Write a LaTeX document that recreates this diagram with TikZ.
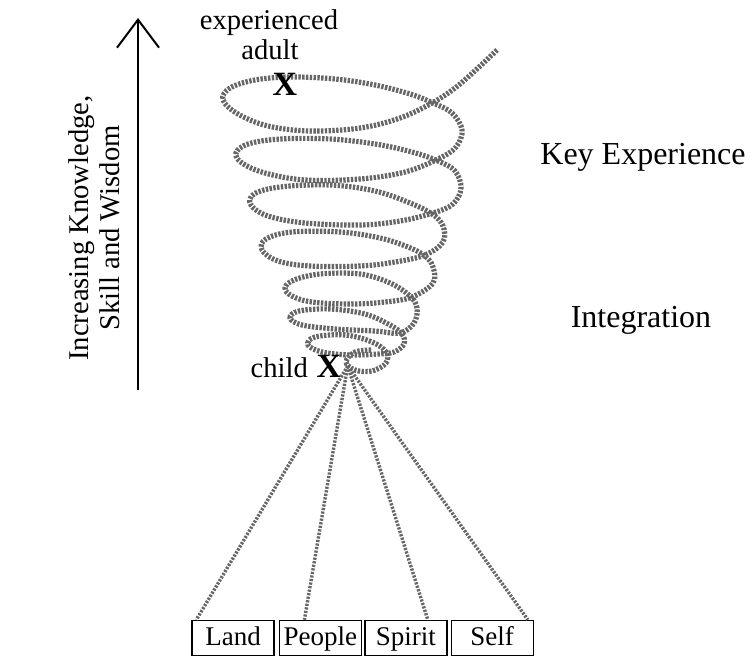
\documentclass[tikz,border=0pt]{standalone}
\usepackage{fontspec}
\setmainfont{Liberation Serif}
\usetikzlibrary{arrows.meta}
\usetikzlibrary{positioning}
\tikzset{
  rope/.style={draw=black!60, line width=2.6pt, dash pattern=on 1.2pt off 0.7pt},
  strand/.style={draw=black!60, line width=1.7pt, dash pattern=on 1.1pt off 0.7pt},
  lbl/.style={font=\fontsize{14.3}{15.5}\selectfont, inner sep=0pt},
  headline/.style={font=\fontsize{16}{19}\selectfont, inner sep=0pt},
  bigx/.style={font=\fontsize{17}{17}\selectfont\bfseries, inner sep=0pt},
  cell/.style={draw, line width=0.7pt, minimum width=41pt, minimum height=17.5pt, inner sep=0pt, text height=9.5pt, text depth=2.5pt, font=\fontsize{13.5}{16}\selectfont},
}
\begin{document}
\begin{tikzpicture}[x=0.5pt, y=-0.5pt]
      \useasboundingbox (0,0) rectangle (754,658);
      \coordinate (axisbot) at (138,390);
      \coordinate (axistop) at (138,18);
      \draw[line width=1pt, -{Straight Barb[length=14pt, width=21pt, line width=1pt]}] (axisbot) -- (axistop);
      \node[lbl, rotate=90, align=center] (growth) at (94,228) {Increasing Knowledge,\\Skill and Wisdom};

      \draw[rope] plot[smooth, tension=0.6] coordinates {
        (497,50) (478,68) (455,88) (432,103) (400,118) (360,128) (310,131) (268,126) (238,114) (223,100)
        (230,88) (255,80) (290,77) (335,79) (375,85) (410,94) (433,103) (452,113) (462,130) (456,147) (438,159)
        (405,172) (360,179) (305,180) (265,173) (242,163) (236,153) (248,144) (280,139) (330,139) (375,144)
        (412,152) (438,161) (455,171) (461,188) (453,204) (433,213)
        (400,221) (360,225) (305,223) (268,216) (251,205) (254,194) (280,187) (330,185) (375,191) (410,203)
        (432,214) (443,226) (443,242) (425,255)
        (395,262) (360,266) (310,266) (278,261) (262,250) (266,239) (292,232) (340,232) (380,238) (408,247)
        (425,256) (433,267) (433,283) (412,297)
        (385,302) (350,304) (312,302) (292,296) (285,288) (294,280) (320,274) (360,274) (390,283) (410,296)
        (417,308) (414,323) (400,333)
        (375,331) (335,329) (302,325) (290,318) (299,311) (330,309) (365,314) (390,325) (402,334) (404,344)
        (394,352) (378,354)
        (350,355) (322,352) (308,345) (315,337) (345,335) (372,342) (386,352) (386,363) (372,371) (355,370)
        (346,362) (355,352) (372,350)};

      \node[lbl] (exper) at (269,23) {experienced};
      \node[lbl] (adult) at (270,50) {adult};
      \node[bigx] (adultx) at (285,84) {X};
      \node[bigx] (childx) at (329,366) {X};
      \node[lbl, base left=4pt of childx] (child) {child};

      \node[headline] (keyexp) at (643,157) {Key Experience};
      \node[headline] (integ) at (641,320) {Integration};

      \node[cell] (land) at (233,638) {Land};
      \node[cell, right=2pt of land] (people) {People};
      \node[cell, right=1pt of people] (spirit) {Spirit};
      \node[cell, right=1.5pt of spirit] (self) {Self};

      \coordinate (hub) at ([xshift=3pt]childx.east);
      \draw[strand] (hub) -- ([xshift=2.5pt]land.north west);
      \draw[strand] (hub) -- ([xshift=-8pt]people.north);
      \draw[strand] (hub) -- ([xshift=11pt]spirit.north);
      \draw[strand] (hub) -- ([xshift=-3pt]self.north east);
\end{tikzpicture}
\end{document}
